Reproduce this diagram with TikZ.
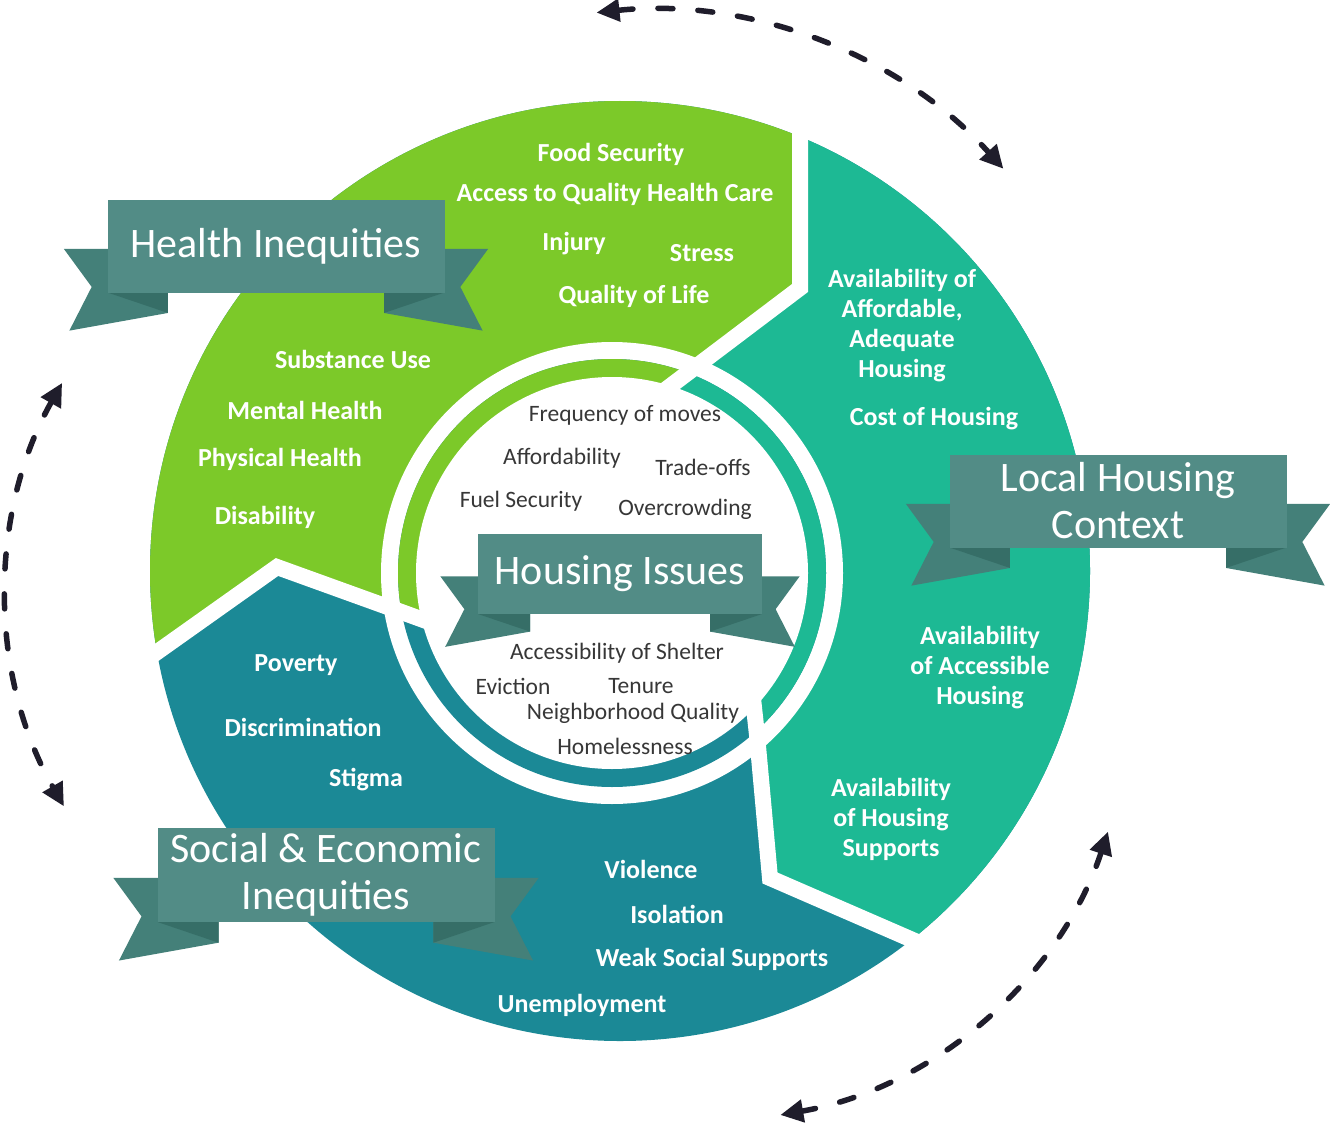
\documentclass[tikz,border=0pt]{standalone}
\usepackage{fontspec}
\setmainfont{Carlito}
\usetikzlibrary{arrows.meta}

\definecolor{limegreen}{RGB}{124,201,41}
\definecolor{seagreen}{RGB}{29,185,148}
\definecolor{deepteal}{RGB}{27,137,150}
\definecolor{ribbonface}{RGB}{82,140,134}
\definecolor{ribbontail}{RGB}{68,128,121}
\definecolor{ribbonfold}{RGB}{54,110,103}
\definecolor{arrowink}{RGB}{31,29,43}
\definecolor{issuegray}{RGB}{55,55,55}

\tikzset{
  ribbon/.style={fill=ribbonface, text=white, inner sep=0pt, align=center,
    font=\fontsize{42}{47}\selectfont},
  lbl/.style={text=white, align=center, font=\fontsize{26}{30}\selectfont\bfseries},
  issue/.style={text=issuegray, font=\fontsize{23.5}{25}\selectfont},
  gap/.style={draw=white, line width=16pt, line join=miter},
  cyclearrow/.style={draw=arrowink, line width=5.5pt, line cap=round,
    dash pattern=on 15pt off 25pt,
    arrows={Triangle[length=23pt,width=22pt]-Triangle[length=23pt,width=22pt]}},
}

% banner with folded tails: name, centre x, centre y, width, height, text
\newcommand\drawribbon[6]{%
  \pgfmathsetmacro\rbL{#2-#4/2}\pgfmathsetmacro\rbR{#2+#4/2}%
  \pgfmathsetmacro\rbT{#3-#5/2}\pgfmathsetmacro\rbB{#3+#5/2}%
  \fill[ribbontail] (\rbL-0.47*#5,\rbT+0.53*#5) -- (\rbL-0.17*#5,\rbB-0.06*#5)
    -- (\rbL-0.41*#5,\rbB+0.41*#5) -- (\rbL+0.65*#5,\rbB+0.22*#5)
    -- (\rbL+0.65*#5,\rbT+0.53*#5) -- cycle;
  \fill[ribbontail] (\rbR+0.47*#5,\rbT+0.53*#5) -- (\rbR+0.17*#5,\rbB-0.06*#5)
    -- (\rbR+0.41*#5,\rbB+0.41*#5) -- (\rbR-0.65*#5,\rbB+0.22*#5)
    -- (\rbR-0.65*#5,\rbT+0.53*#5) -- cycle;
  \fill[ribbonfold] (\rbL,\rbB) -- (\rbL+0.65*#5,\rbB) -- (\rbL+0.65*#5,\rbB+0.22*#5) -- cycle;
  \fill[ribbonfold] (\rbR,\rbB) -- (\rbR-0.65*#5,\rbB) -- (\rbR-0.65*#5,\rbB+0.22*#5) -- cycle;
  \node[ribbon, minimum width=#4pt, minimum height=#5pt] (#1) at (#2,#3) {#6};
}

\begin{document}
\begin{tikzpicture}[x=1pt, y=-1pt]
\useasboundingbox (0,0) rectangle (1330,1129);
\fill[white] (0,0) rectangle (1330,1129);

% wheel centre, ring centre and the three cut lines
\coordinate (hub) at (620,571);
\coordinate (ringhub) at (612,573);
\coordinate (gtfar) at (800,-60);
\coordinate (gttip) at (800,288);
\coordinate (gtin)  at (640,409);
\coordinate (tdfar) at (1060,1004);
\coordinate (tdtip) at (770,878);
\coordinate (tdmid) at (757,735);
\coordinate (tdin)  at (751,680);
\coordinate (dgfar) at (60,721);
\coordinate (dgtip) at (277,567);
\coordinate (dgmid) at (385,606);
\coordinate (dgin)  at (440,626);

% outer sectors, then the inner ring
\foreach \c/\r/\w in {hub/470/231, ringhub/214/196} {
  \begin{scope}
    \clip (\c) circle[radius=\r];
    \fill[deepteal] (hub) circle[radius=500];
    \fill[limegreen] (-60,-60) -- (gtfar) -- (gttip) -- (gtin) -- (hub)
      -- (dgin) -- (dgmid) -- (dgtip) -- (dgfar) -- (-60,721) -- cycle;
    \fill[seagreen] (gtfar) -- (1400,-60) -- (1400,1004) -- (tdfar) -- (tdtip)
      -- (tdmid) -- (tdin) -- (hub) -- (gtin) -- (gttip) -- cycle;
  \end{scope}
  \fill[white] (ringhub) circle[radius=\w];
}

\draw[gap] (gtfar) -- (gttip) -- (gtin);
\draw[gap] (tdfar) -- (tdtip) -- (tdmid) -- (tdin);
\draw[gap] (dgfar) -- (dgtip) -- (dgmid) -- (dgin);

% banners
\drawribbon{health}{276}{246}{337}{93}{Health Inequities}
\drawribbon{local}{1118}{501}{337}{93}{Local Housing\\Context}
\drawribbon{social}{326}{875}{337}{94}{Social \& Economic\\Inequities}
\drawribbon{housing}{620}{574}{284}{80}{Housing Issues}

% sector labels
\foreach \nm/\x/\y/\txt in {
  food/611/154/{Food Security},
  care/615/194/{Access to Quality Health Care},
  injury/574/244/{Injury},
  stress/702/253/{Stress},
  life/634/296/{Quality of Life},
  subst/353/359/{Substance Use},
  mental/305/410/{Mental Health},
  phys/280/459/{Physical Health},
  disab/265/517/{Disability},
  avail/902/326/{Availability of\\Affordable,\\Adequate\\Housing},
  cost/934/419/{Cost of Housing},
  access/980/668/{Availability\\of Accessible\\Housing},
  supp/891/819/{Availability\\of Housing\\Supports},
  pov/296/665/{Poverty},
  discr/303/727/{Discrimination},
  stig/366/780/{Stigma},
  viol/651/869/{Violence},
  isol/677/914/{Isolation},
  weak/712/959/{Weak Social Supports},
  unemp/582/1005/{Unemployment}}
  \node[lbl] (\nm) at (\x,\y) {\txt};

% housing issues in the middle
\foreach \nm/\x/\y/\txt in {
  freq/625/415/{Frequency of moves},
  afford/562/458/{Affordability},
  trade/703/467/{Trade-offs},
  fuel/521/501/{Fuel Security},
  crowd/685/509/{Overcrowding},
  shelter/617/653/{Accessibility of Shelter},
  evict/513/686/{Eviction},
  tenure/641/686/{Tenure},
  hood/633/713/{Neighborhood Quality},
  homeless/625/746/{Homelessness}}
  \node[issue] (\nm) at (\x,\y) {\txt};

% dashed cycle arrows round the wheel
\coordinate (topfrom) at (596.5,12.6);
\coordinate (leftfrom) at (62.1,382.9);
\coordinate (rightfrom) at (1108,831.6);
\draw[cyclearrow] (topfrom) arc[start angle=-96, end angle=-42, radius=480];
\draw[cyclearrow] (leftfrom) arc[start angle=209.4, end angle=150.1, radius=428];
\draw[cyclearrow] (rightfrom) arc[start angle=18.3, end angle=80, radius=422.4];
\end{tikzpicture}
\end{document}
